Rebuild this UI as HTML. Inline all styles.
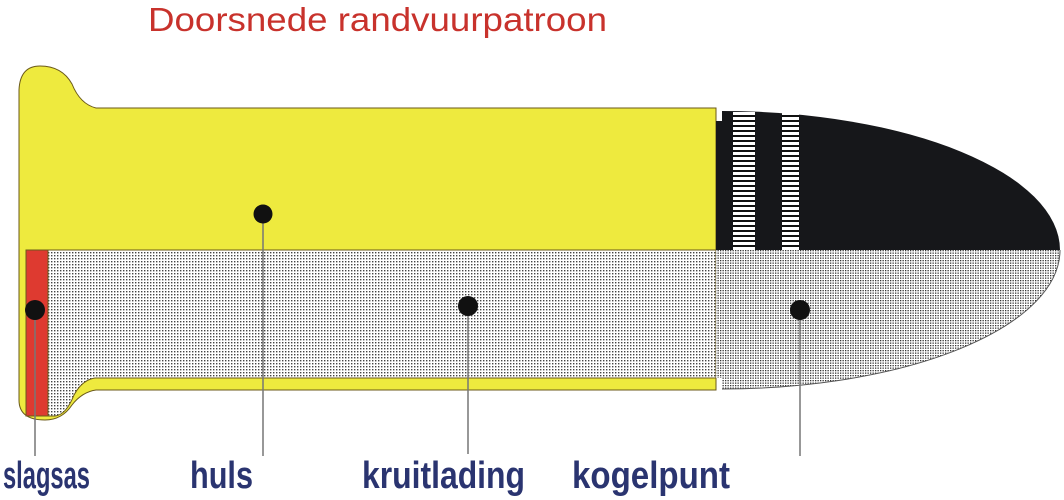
<!DOCTYPE html>
<html><head><meta charset="utf-8"><style>html,body{margin:0;padding:0;background:#fff;}svg{display:block}</style></head>
<body>
<svg width="1064" height="500" viewBox="0 0 1064 500" xmlns="http://www.w3.org/2000/svg">
<defs>
<pattern id="dots" width="3" height="3" patternUnits="userSpaceOnUse"><rect width="3" height="3" fill="#fff"/><rect width="1.4" height="1.4" fill="#444"/></pattern>
<pattern id="dots2" width="2.5" height="2.5" patternUnits="userSpaceOnUse"><rect width="2.5" height="2.5" fill="#fff"/><rect width="1.3" height="1.3" fill="#333"/></pattern>
<pattern id="stripes" width="4" height="5" patternUnits="userSpaceOnUse"><rect width="4" height="5" fill="#fff"/><rect width="4" height="2" fill="#111"/></pattern>
<clipPath id="top"><rect x="722" y="100" width="400" height="150"/></clipPath>
<clipPath id="bot"><rect x="722" y="250" width="400" height="150"/></clipPath>
</defs>
<text x="148" y="31" font-family="Liberation Sans, sans-serif" font-size="33" fill="#c8322c" textLength="459" lengthAdjust="spacingAndGlyphs">Doorsnede  randvuurpatroon</text>
<path d="M19,90 Q20,66 40,66 Q62,66 72,84 Q80,104 96,108 L716,108 L716,250 L716,390 L96,390 Q82,392 72,405 Q62,420 45,420 Q19,420 19,400 Z" fill="#eeea3e" stroke="#6b5a1a" stroke-width="1"/>
<path d="M26,250 L716,250 L716,378 L95,378 Q82,380 74,395 Q66,415 55,416 L26,416 Z" fill="url(#dots)" stroke="#6b5a1a" stroke-width="1"/>
<rect x="26" y="250" width="22" height="166" fill="#de3a30" stroke="#6b5a1a" stroke-width="1"/>
<ellipse cx="722" cy="250" rx="338" ry="139" fill="#16171a" clip-path="url(#top)"/>
<ellipse cx="722" cy="250" rx="338" ry="139" fill="url(#dots2)" stroke="#555" stroke-width="1" clip-path="url(#bot)"/>
<rect x="716" y="121" width="6" height="129" fill="#16171a"/>
<rect x="716" y="250" width="6" height="128" fill="url(#dots2)"/>
<rect x="733" y="112" width="22" height="138" fill="url(#stripes)"/>
<rect x="782" y="113" width="17" height="137" fill="url(#stripes)"/>
<g stroke="#777" stroke-width="1.5">
<line x1="35" y1="310" x2="35" y2="456"/>
<line x1="263" y1="214" x2="263" y2="456"/>
<line x1="468" y1="306" x2="468" y2="454"/>
<line x1="800" y1="310" x2="800" y2="456"/>
</g>
<g fill="#111">
<circle cx="35" cy="310" r="10"/>
<circle cx="263" cy="214" r="9.5"/>
<circle cx="468" cy="306" r="10"/>
<circle cx="800" cy="310" r="10"/>
</g>
<g font-family="Liberation Sans, sans-serif" font-size="38" font-weight="bold" fill="#2a3470">
<text x="3" y="488" textLength="87" lengthAdjust="spacingAndGlyphs">slagsas</text>
<text x="190" y="488" textLength="63" lengthAdjust="spacingAndGlyphs">huls</text>
<text x="362" y="488" textLength="163" lengthAdjust="spacingAndGlyphs">kruitlading</text>
<text x="572" y="488" textLength="158" lengthAdjust="spacingAndGlyphs">kogelpunt</text>
</g>
</svg>
</body></html>
